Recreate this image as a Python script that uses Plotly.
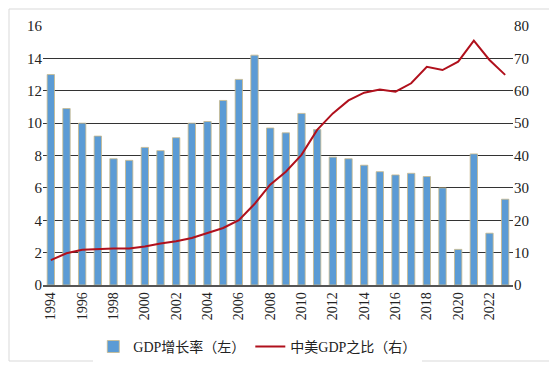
import plotly.graph_objects as go

years = list(range(1994, 2024))
gdp_growth = [13.0, 10.9, 10.0, 9.2, 7.8, 7.7, 8.5, 8.3, 9.1, 10.0,
              10.1, 11.4, 12.7, 14.2, 9.7, 9.4, 10.6, 9.6, 7.9, 7.8,
              7.4, 7.0, 6.8, 6.9, 6.7, 6.0, 2.2, 8.1, 3.2, 5.3]
cn_us_ratio = [7.7, 9.8, 10.9, 11.2, 11.3, 11.3, 11.9, 12.8, 13.5, 14.5,
               16.0, 17.6, 20.0, 25.0, 31.0, 35.0, 40.2, 47.9, 53.0, 57.0,
               59.4, 60.4, 59.7, 62.3, 67.4, 66.4, 69.0, 75.5, 69.5, 64.9]
tick_years = [str(y) for y in range(1994, 2024, 2)]

# page body has an 8px default margin; compensate so plot sits where reference does
W, H = 549, 357
ml, mr, mt, mb = 35, 44, 18, 80
font = "Liberation Serif, Noto Sans CJK SC, serif"

fig = go.Figure()
fig.add_trace(go.Bar(
    x=[str(y) for y in years], y=gdp_growth, name="GDP增长率（左）",
    marker=dict(color="#5B9BD5", line=dict(color="#C9B98A", width=0.8)),
    yaxis="y",
))
fig.add_trace(go.Scatter(
    x=[str(y) for y in years], y=cn_us_ratio, name="中美GDP之比（右）",
    mode="lines", line=dict(color="#B0101C", width=2),
    yaxis="y2",
))

pw = W - ml - mr
ph = H - mt - mb
fig.add_shape(type="rect", xref="paper", yref="paper",
              x0=-(ml - 1) / pw, x1=1 + (mr - 5) / pw,
              y0=-(mb - 4) / ph, y1=1 + (mt - 1) / ph,
              line=dict(color="#D9D9D9", width=1), layer="below")

fig.update_layout(
    width=W, height=H,
    margin=dict(l=ml, r=mr, t=mt, b=mb, autoexpand=False),
    paper_bgcolor="white", plot_bgcolor="white",
    font=dict(family=font, size=14, color="#222222"),
    bargap=0.53,
    showlegend=True,
    legend=dict(orientation="h", x=0.457, xanchor="center", y=-0.239, yanchor="middle",
                font=dict(size=14, family=font), itemwidth=30,
                traceorder="normal", tracegroupgap=0),
    xaxis=dict(
        type="category", tickmode="array", tickvals=tick_years, ticktext=tick_years,
        tickangle=-90, showgrid=False, showline=True, linecolor="#555555", linewidth=1.5,
        ticks="", tickfont=dict(size=14), automargin=False,
    ),
    yaxis=dict(
        range=[0, 16], dtick=2, showgrid=True, gridcolor="#333333", gridwidth=1,
        zeroline=False, showline=False, ticks="", tickfont=dict(size=15), automargin=False,
    ),
    yaxis2=dict(
        range=[0, 80], dtick=10, overlaying="y", side="right", showgrid=False,
        zeroline=False, showline=False, ticks="", tickfont=dict(size=15), automargin=False,
    ),
)

fig.write_html("out.html")
